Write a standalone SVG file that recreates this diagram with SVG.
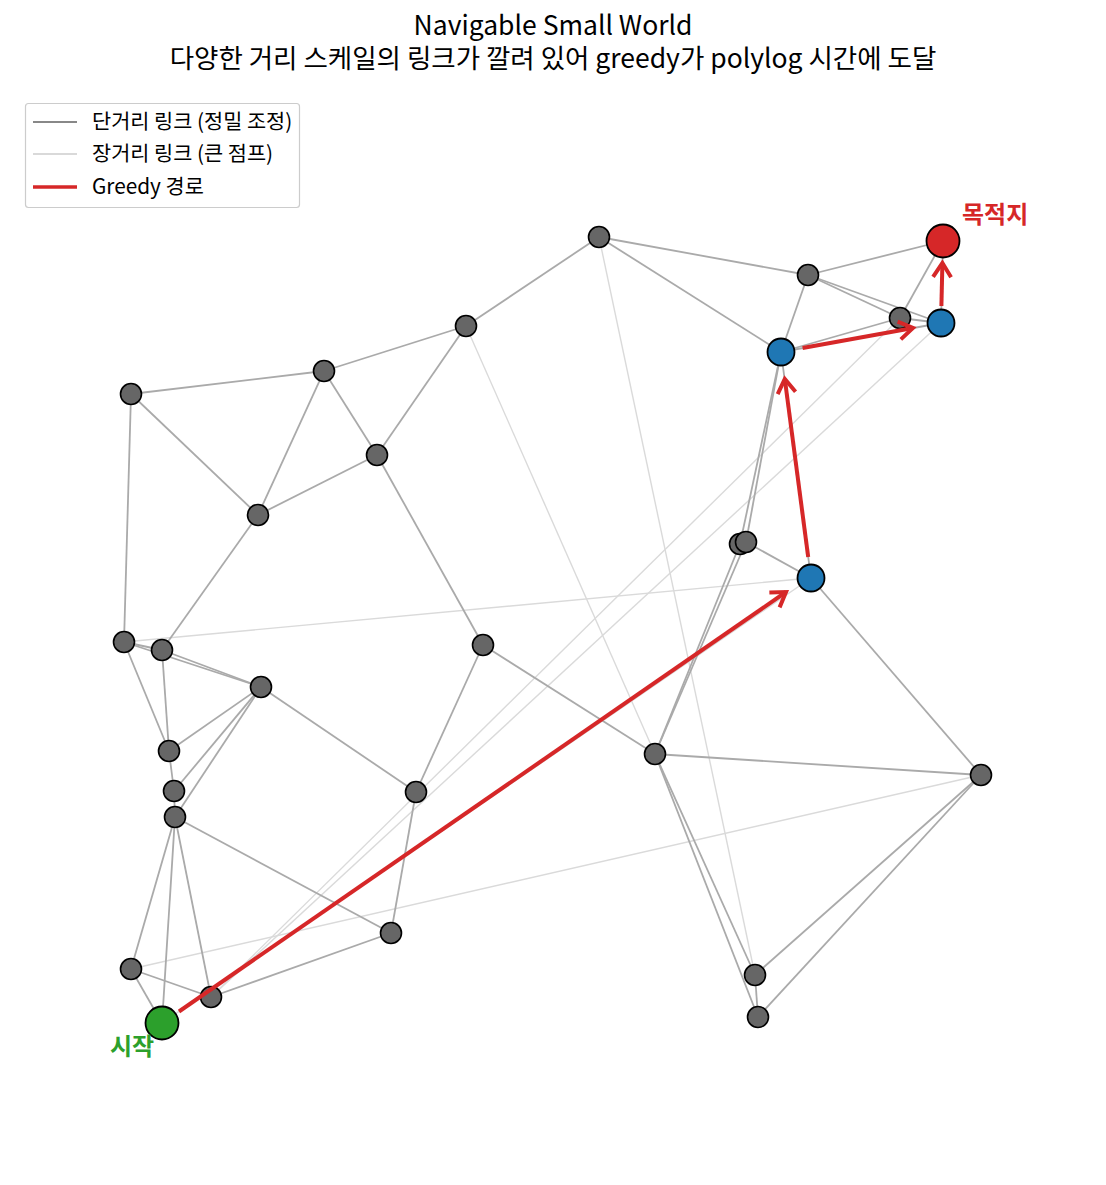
<svg xmlns="http://www.w3.org/2000/svg" width="1106" height="1185" viewBox="0 0 1106 1185">
<style>
  text { font-family: "Noto Sans CJK KR", "Noto Sans", sans-serif; }
  .title { font-size: 26.5px; fill: #000; text-anchor: middle; }
  .leg { font-size: 20.8px; fill: #000; }
  .s { stroke: #aaaaaa; stroke-width: 1.8; fill: none; }
  .l { stroke: #dadada; stroke-width: 1.4; fill: none; }
  .n { fill: #666666; stroke: #000; stroke-width: 1.6; }
  .b { fill: #1f77b4; stroke: #000; stroke-width: 1.8; }
  .p { stroke: #d62728; stroke-width: 4; fill: none; stroke-linecap: butt; }
</style>
<defs>
  <marker id="ah" markerUnits="userSpaceOnUse" markerWidth="30" markerHeight="30" viewBox="-20 -15 30 30" refX="0" refY="0" orient="auto" overflow="visible">
    <path d="M -14 -9 L 0 0 L -14 9" fill="none" stroke="#d62728" stroke-width="4" stroke-linejoin="miter" stroke-linecap="butt"/>
  </marker>
</defs>
<rect width="1106" height="1185" fill="#fff"/>
<g id="title">
  <text class="title" x="553" y="35">Navigable Small World</text>
  <text class="title" x="553" y="68">다양한 거리 스케일의 링크가 깔려 있어 greedy가 polylog 시간에 도달</text>
</g>
<g id="legend">
  <rect x="25.5" y="103.5" width="274" height="104" rx="3" fill="#fff" stroke="#cccccc" stroke-width="1.2"/>
  <line x1="33" y1="122" x2="77" y2="122" stroke="#888888" stroke-width="2.2"/>
  <text class="leg" x="92" y="129">단거리 링크 (정밀 조정)</text>
  <line x1="33" y1="154" x2="77" y2="154" stroke="#cccccc" stroke-width="1.6"/>
  <text class="leg" x="92" y="161">장거리 링크 (큰 점프)</text>
  <line x1="33" y1="187" x2="77" y2="187" stroke="#d62728" stroke-width="3.6"/>
  <text class="leg" x="92" y="194">Greedy 경로</text>
</g>
<g id="connectors">
  <g id="long-links">
    <line class="l" x1="599" y1="237" x2="755" y2="975"/>
    <line class="l" x1="466" y1="326" x2="655" y2="754"/>
    <line class="l" x1="124" y1="642" x2="811" y2="578"/>
    <line class="l" x1="900" y1="318" x2="211" y2="997"/>
    <line class="l" x1="941" y1="323" x2="211" y2="997"/>
    <line class="l" x1="131" y1="969" x2="981" y2="775"/>
    <line class="l" x1="162" y1="1023" x2="811" y2="578"/>
  </g>
  <g id="short-links">
    <line class="s" x1="599" y1="237" x2="808" y2="275"/>
    <line class="s" x1="599" y1="237" x2="466" y2="326"/>
    <line class="s" x1="599" y1="237" x2="781" y2="352"/>
    <line class="s" x1="808" y1="275" x2="943" y2="241"/>
    <line class="s" x1="808" y1="275" x2="900" y2="318"/>
    <line class="s" x1="808" y1="275" x2="941" y2="323"/>
    <line class="s" x1="808" y1="275" x2="781" y2="352"/>
    <line class="s" x1="943" y1="241" x2="900" y2="318"/>
    <line class="s" x1="943" y1="241" x2="941" y2="323"/>
    <line class="s" x1="781" y1="352" x2="900" y2="318"/>
    <line class="s" x1="781" y1="352" x2="941" y2="323"/>
    <line class="s" x1="900" y1="318" x2="941" y2="323"/>
    <line class="s" x1="781" y1="352" x2="811" y2="578"/>
    <line class="s" x1="466" y1="326" x2="324" y2="371"/>
    <line class="s" x1="466" y1="326" x2="377" y2="455"/>
    <line class="s" x1="324" y1="371" x2="131" y2="394"/>
    <line class="s" x1="324" y1="371" x2="377" y2="455"/>
    <line class="s" x1="324" y1="371" x2="258" y2="515"/>
    <line class="s" x1="131" y1="394" x2="258" y2="515"/>
    <line class="s" x1="131" y1="394" x2="124" y2="642"/>
    <line class="s" x1="377" y1="455" x2="258" y2="515"/>
    <line class="s" x1="377" y1="455" x2="483" y2="645"/>
    <line class="s" x1="258" y1="515" x2="162" y2="650"/>
    <line class="s" x1="124" y1="642" x2="162" y2="650"/>
    <line class="s" x1="124" y1="642" x2="261" y2="687"/>
    <line class="s" x1="162" y1="650" x2="261" y2="687"/>
    <line class="s" x1="124" y1="642" x2="169" y2="751"/>
    <line class="s" x1="162" y1="650" x2="169" y2="751"/>
    <line class="s" x1="261" y1="687" x2="169" y2="751"/>
    <line class="s" x1="261" y1="687" x2="174" y2="791"/>
    <line class="s" x1="261" y1="687" x2="175" y2="817"/>
    <line class="s" x1="169" y1="751" x2="174" y2="791"/>
    <line class="s" x1="174" y1="791" x2="175" y2="817"/>
    <line class="s" x1="261" y1="687" x2="416" y2="792"/>
    <line class="s" x1="483" y1="645" x2="416" y2="792"/>
    <line class="s" x1="483" y1="645" x2="655" y2="754"/>
    <line class="s" x1="416" y1="792" x2="391" y2="933"/>
    <line class="s" x1="175" y1="817" x2="391" y2="933"/>
    <line class="s" x1="175" y1="817" x2="131" y2="969"/>
    <line class="s" x1="175" y1="817" x2="162" y2="1023"/>
    <line class="s" x1="175" y1="817" x2="211" y2="997"/>
    <line class="s" x1="131" y1="969" x2="162" y2="1023"/>
    <line class="s" x1="131" y1="969" x2="211" y2="997"/>
    <line class="s" x1="211" y1="997" x2="391" y2="933"/>
    <line class="s" x1="655" y1="754" x2="740" y2="544"/>
    <line class="s" x1="655" y1="754" x2="746" y2="542"/>
    <line class="s" x1="740" y1="544" x2="781" y2="352"/>
    <line class="s" x1="746" y1="542" x2="781" y2="352"/>
    <line class="s" x1="746" y1="542" x2="811" y2="578"/>
    <line class="s" x1="811" y1="578" x2="981" y2="775"/>
    <line class="s" x1="655" y1="754" x2="981" y2="775"/>
    <line class="s" x1="655" y1="754" x2="755" y2="975"/>
    <line class="s" x1="655" y1="754" x2="758" y2="1017"/>
    <line class="s" x1="981" y1="775" x2="755" y2="975"/>
    <line class="s" x1="981" y1="775" x2="758" y2="1017"/>
    <line class="s" x1="755" y1="975" x2="758" y2="1017"/>
  </g>
</g>
<g id="nodes">
  <circle id="n1" class="n" cx="599" cy="237" r="10.5"/>
  <circle id="n2" class="n" cx="808" cy="275" r="10.5"/>
  <circle id="n3" class="n" cx="900" cy="318" r="10.5"/>
  <circle id="n4" class="n" cx="466" cy="326" r="10.5"/>
  <circle id="n5" class="n" cx="324" cy="371" r="10.5"/>
  <circle id="n6" class="n" cx="131" cy="394" r="10.5"/>
  <circle id="n7" class="n" cx="377" cy="455" r="10.5"/>
  <circle id="n8" class="n" cx="258" cy="515" r="10.5"/>
  <circle id="n9" class="n" cx="740" cy="544" r="10.5"/>
  <circle id="n10" class="n" cx="746" cy="542" r="10.5"/>
  <circle id="n11" class="n" cx="124" cy="642" r="10.5"/>
  <circle id="n12" class="n" cx="162" cy="650" r="10.5"/>
  <circle id="n13" class="n" cx="483" cy="645" r="10.5"/>
  <circle id="n14" class="n" cx="261" cy="687" r="10.5"/>
  <circle id="n15" class="n" cx="655" cy="754" r="10.5"/>
  <circle id="n16" class="n" cx="169" cy="751" r="10.5"/>
  <circle id="n17" class="n" cx="174" cy="791" r="10.5"/>
  <circle id="n18" class="n" cx="416" cy="792" r="10.5"/>
  <circle id="n19" class="n" cx="175" cy="817" r="10.5"/>
  <circle id="n20" class="n" cx="981" cy="775" r="10.5"/>
  <circle id="n21" class="n" cx="391" cy="933" r="10.5"/>
  <circle id="n22" class="n" cx="131" cy="969" r="10.5"/>
  <circle id="n23" class="n" cx="211" cy="997" r="10.5"/>
  <circle id="n24" class="n" cx="755" cy="975" r="10.5"/>
  <circle id="n25" class="n" cx="758" cy="1017" r="10.5"/>
  <circle id="b1" class="b" cx="811" cy="578" r="13.5"/>
  <circle id="b2" class="b" cx="781" cy="352" r="13.5"/>
  <circle id="b3" class="b" cx="941" cy="323" r="13.5"/>
  <g id="target">
    <circle cx="943" cy="241" r="16.5" fill="#d62728" stroke="#000" stroke-width="1.8"/>
    <text x="962" y="223" font-size="24" font-weight="bold" fill="#d62728">목적지</text>
  </g>
  <g id="start">
    <circle cx="162" cy="1023" r="16.5" fill="#2ca02c" stroke="#000" stroke-width="1.8"/>
    <text x="110" y="1055" font-size="24" font-weight="bold" fill="#2ca02c">시작</text>
  </g>
</g>
<g id="greedy-path">
  <line class="p" x1="179" y1="1011.5" x2="786" y2="592" marker-end="url(#ah)"/>
  <line class="p" x1="808.2" y1="557" x2="784.8" y2="379" marker-end="url(#ah)"/>
  <line class="p" x1="802.6" y1="348" x2="913" y2="328" marker-end="url(#ah)"/>
  <line class="p" x1="941.4" y1="306" x2="942.4" y2="263" marker-end="url(#ah)"/>
</g>
</svg>
